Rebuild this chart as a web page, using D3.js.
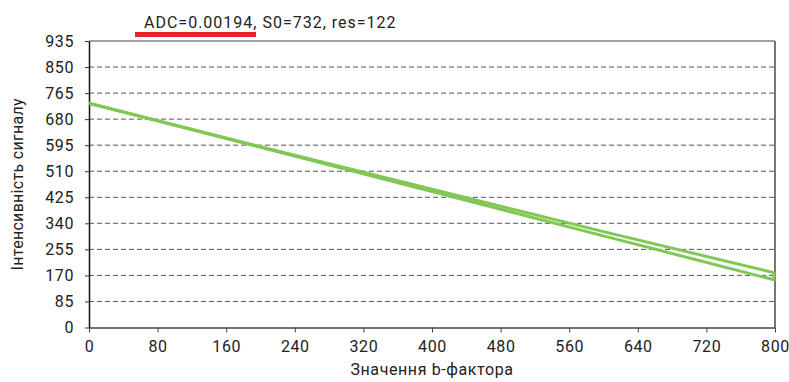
<!DOCTYPE html>
<html>
<head>
<meta charset="utf-8">
<script src="https://cdn.jsdelivr.net/npm/d3@7"></script>
<style>
  body { margin: 0; background: #fff; }
  text { font-family: Roboto, "DejaVu Sans", sans-serif; fill: #222; }
</style>
</head>
<body>
<div class="svg-container"></div>
<script>
// data
const bValues = [0, 200, 400, 600, 800];
const measured = [732, 590, 451, 313, 178];
const fitted = [732, 588, 444, 299, 155];
const xTicks = [0, 80, 160, 240, 320, 400, 480, 560, 640, 720, 800];
const yTicks = [0, 85, 170, 255, 340, 425, 510, 595, 680, 765, 850, 935];
const title = 'ADC=0.00194, S0=732, res=122';
const xLabel = 'Значення b-фактора';
const yLabel = 'Інтенсивність сигналу';

const width = 789;
const height = 382;
const margin = { top: 41, right: 14, bottom: 54.5, left: 89 };
const green = '#80c756';

const svg = d3.select('.svg-container')
  .append('svg')
  .attr('width', width)
  .attr('height', height)

const xScale = d3.scaleLinear()
  .domain([0, 800])
  .range([margin.left, width - margin.right])

const yScale = d3.scaleLinear()
  .domain([0, 935])
  .range([height - margin.bottom, margin.top])

// dashed grid
svg.append('g')
  .selectAll('line')
  .data(yTicks.slice(1, -1))
  .join('line')
  .attr('x1', margin.left)
  .attr('x2', width - margin.right)
  .attr('y1', (d) => yScale(d))
  .attr('y2', (d) => yScale(d))
  .attr('stroke', '#555')
  .attr('stroke-width', 1)
  .attr('stroke-dasharray', '5,3')

// frame top and right
svg.append('line')
  .attr('x1', margin.left).attr('x2', width - margin.right)
  .attr('y1', margin.top).attr('y2', margin.top)
  .attr('stroke', '#444').attr('stroke-width', 1.2)

svg.append('line')
  .attr('x1', width - margin.right).attr('x2', width - margin.right)
  .attr('y1', margin.top).attr('y2', height - margin.bottom)
  .attr('stroke', '#777').attr('stroke-width', 2)

// axes
const xAxis = d3.axisBottom(xScale)
  .tickValues(xTicks)
  .tickSize(5)
  .tickSizeOuter(0)

const yAxis = d3.axisLeft(yScale)
  .tickValues(yTicks)
  .tickSize(4)
  .tickSizeOuter(0)

const gx = svg.append('g')
  .attr('id', 'x-axis')
  .attr('transform', `translate(0, ${height - margin.bottom})`)
  .call(xAxis)

const gy = svg.append('g')
  .attr('id', 'y-axis')
  .attr('transform', `translate(${margin.left}, 0)`)
  .call(yAxis)

gx.select('.domain').attr('stroke', '#444').attr('stroke-width', 1.5)
gx.selectAll('.tick line').attr('stroke', '#444')
gx.selectAll('.tick text')
  .attr('font-size', 16).attr('letter-spacing', 0.6)
  .attr('y', 9).attr('dy', '0.95em').attr('fill', '#222')
gy.select('.domain').attr('stroke', '#111').attr('stroke-width', 1.5)
gy.selectAll('.tick line').attr('stroke', '#333')
gy.selectAll('.tick text')
  .attr('font-size', 16).attr('letter-spacing', 0.6)
  .attr('x', -15).attr('fill', '#222')

// lines
const line = d3.line()
  .x((d, i) => xScale(bValues[i]))
  .y((d) => yScale(d))

svg.append('path')
  .datum(fitted)
  .attr('d', line)
  .attr('fill', 'none')
  .attr('stroke', green)
  .attr('stroke-width', 3)

svg.append('path')
  .datum(measured)
  .attr('d', line)
  .attr('fill', 'none')
  .attr('stroke', green)
  .attr('stroke-width', 3)

// end marker at last b value
svg.append('line')
  .attr('x1', xScale(800) - 1).attr('x2', xScale(800) - 1)
  .attr('y1', yScale(measured[measured.length - 1]) - 1)
  .attr('y2', yScale(fitted[fitted.length - 1]) + 1)
  .attr('stroke', green)
  .attr('stroke-width', 3)

// title with red underline
svg.append('rect')
  .attr('x', 135)
  .attr('y', 32)
  .attr('width', 121)
  .attr('height', 5)
  .attr('fill', '#e8202a')

svg.append('text')
  .text(title)
  .attr('x', 144)
  .attr('y', 28)
  .attr('font-size', 16)
  .attr('letter-spacing', 1)

// axis labels
svg.append('text')
  .text(xLabel)
  .attr('x', (margin.left + width - margin.right) / 2)
  .attr('y', 375)
  .attr('text-anchor', 'middle')
  .attr('font-size', 16)
  .attr('letter-spacing', 0.6)

svg.append('text')
  .text(yLabel)
  .attr('transform', `translate(23, ${(margin.top + height - margin.bottom) / 2}) rotate(-90)`)
  .attr('text-anchor', 'middle')
  .attr('font-size', 16)
  .attr('letter-spacing', 0.3)
</script>
</body>
</html>
